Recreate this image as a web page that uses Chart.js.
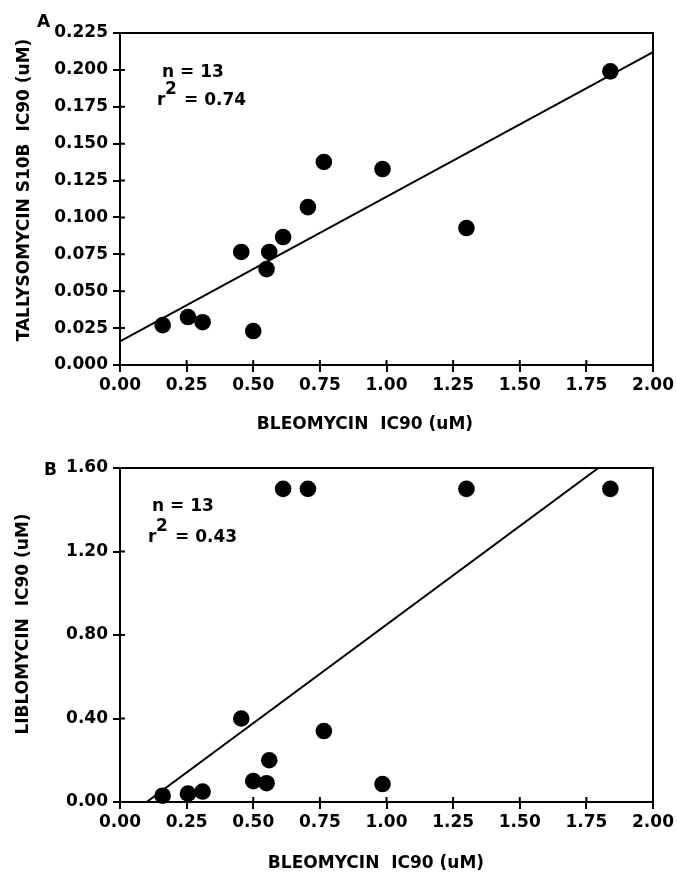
<!DOCTYPE html>
<html>
<head>
<meta charset="utf-8">
<script src="https://cdn.jsdelivr.net/npm/chart.js@4.4.0/dist/chart.umd.min.js"></script>
<style>
  html, body { margin: 0; padding: 0; background: #fff; }
  #wrap { position: relative; width: 677px; height: 873px; }
  canvas { position: absolute; left: 0; }
</style>
</head>
<body>
<div id="wrap">
  <canvas id="chartA" width="677" height="440" style="top:0px"></canvas>
  <canvas id="chartB" width="677" height="433" style="top:440px"></canvas>
</div>
<script>
// bleomycin IC90 (uM), shared by both panels
const bleomycin = [0.16, 0.255, 0.31, 0.455, 0.50, 0.55, 0.56, 0.612, 0.705, 0.765, 0.985, 1.30, 1.84];
// panel A: tallysomycin S10B IC90 (uM)
const tallysomycin = [0.027, 0.0325, 0.029, 0.0766, 0.023, 0.065, 0.0766, 0.0867, 0.107, 0.1376, 0.1328, 0.0928, 0.199];
// panel B: liblomycin IC90 (uM)
const liblomycin = [0.03, 0.04, 0.05, 0.40, 0.10, 0.09, 0.20, 1.50, 1.50, 0.34, 0.086, 1.50, 1.50];

// regression lines (end points)
const fitXA = [0, 2.0];
const fitYA = [0.016, 0.212];
const fitXB = [0.10, 1.795];
const fitYB = [0, 1.60];

const xTicks = [0, 0.25, 0.5, 0.75, 1.0, 1.25, 1.5, 1.75, 2.0];
const yTicksA = [0, 0.025, 0.05, 0.075, 0.1, 0.125, 0.15, 0.175, 0.2, 0.225];
const yTicksB = [0, 0.4, 0.8, 1.2, 1.6];

const FONT = '"DejaVu Sans", sans-serif';
Chart.defaults.font.family = FONT;
Chart.defaults.font.size = 17;
Chart.defaults.font.weight = 'bold';
Chart.defaults.color = '#000';

const toPts = (xs, ys) => xs.map((x, i) => ({ x: x, y: ys[i] }));

// frame, inward tick stubs and the free text of each panel
function panelPlugin(cfg) {
  return {
    id: 'panel',
    afterDraw(chart) {
      const ctx = chart.ctx;
      const a = chart.chartArea;
      const xs = chart.scales.x, ys = chart.scales.y;
      ctx.save();
      ctx.strokeStyle = '#000';
      ctx.lineWidth = 2;
      ctx.strokeRect(a.left, a.top, a.right - a.left, a.bottom - a.top);
      ctx.beginPath();
      xs.ticks.forEach(t => {
        const px = xs.getPixelForValue(t.value);
        if (px > a.left + 2 && px < a.right - 2) {
          ctx.moveTo(px, a.bottom);
          ctx.lineTo(px, a.bottom - 5);
        }
      });
      ys.ticks.forEach(t => {
        const py = ys.getPixelForValue(t.value);
        if (py > a.top + 2 && py < a.bottom - 2) {
          ctx.moveTo(a.left, py);
          ctx.lineTo(a.left + 5, py);
        }
      });
      ctx.stroke();

      ctx.fillStyle = '#000';
      ctx.textBaseline = 'alphabetic';
      ctx.textAlign = 'left';
      ctx.font = 'bold 17px ' + FONT;
      ctx.fillText(cfg.panel, cfg.panelX, cfg.panelY);
      ctx.fillText('n = 13', cfg.nX, cfg.nY);
      ctx.fillText('r', cfg.rX, cfg.rY);
      ctx.fillText('2', cfg.rX + 8, cfg.rY - 11);
      ctx.fillText('= ' + cfg.r2, cfg.rX + 27, cfg.rY);

      ctx.textAlign = 'center';
      ctx.textBaseline = 'middle';
      ctx.fillText(cfg.xTitle, cfg.xTitleX, cfg.xTitleY);
      ctx.translate(cfg.yTitleX, cfg.yTitleY);
      ctx.rotate(-Math.PI / 2);
      ctx.fillText(cfg.yTitle, 0, 0);
      ctx.restore();
    }
  };
}

function makePanel(id, pts, fit, yTicks, yMax, yDigits, padTop, xHeight, cfg) {
  new Chart(document.getElementById(id), {
    type: 'scatter',
    data: {
      datasets: [
        {
          data: pts,
          pointRadius: 8.3,
          pointBackgroundColor: '#000',
          pointBorderWidth: 0,
          clip: false,
          order: 0
        },
        {
          data: fit,
          showLine: true,
          pointRadius: 0,
          borderColor: '#000',
          borderWidth: 2,
          order: 1
        }
      ]
    },
    options: {
      responsive: false,
      animation: false,
      layout: { padding: { top: padTop, right: 24, left: 0, bottom: 0 } },
      plugins: { legend: { display: false }, tooltip: { enabled: false } },
      scales: {
        x: {
          type: 'linear',
          min: 0,
          max: 2,
          afterBuildTicks: s => { s.ticks = xTicks.map(v => ({ value: v })); },
          afterFit: s => { s.height = xHeight; },
          ticks: { padding: 3, callback: v => v.toFixed(2), maxRotation: 0, autoSkip: false },
          grid: { drawOnChartArea: false, tickLength: 7, color: '#000', lineWidth: 2 },
          border: { display: true, color: '#000', width: 2 }
        },
        y: {
          type: 'linear',
          min: 0,
          max: yMax,
          afterBuildTicks: s => { s.ticks = yTicks.map(v => ({ value: v })); },
          afterFit: s => { s.width = 120; },
          ticks: { padding: 5, callback: v => v.toFixed(yDigits), autoSkip: false },
          grid: { drawOnChartArea: false, tickLength: 7, color: '#000', lineWidth: 2 },
          border: { display: true, color: '#000', width: 2 }
        }
      }
    },
    plugins: [panelPlugin(cfg)]
  });
}

makePanel('chartA', toPts(bleomycin, tallysomycin), toPts(fitXA, fitYA), yTicksA, 0.225, 3, 33, 75, {
  panel: 'A', panelX: 37, panelY: 27,
  nX: 162, nY: 77, rX: 157, rY: 105, r2: '0.74',
  xTitle: 'BLEOMYCIN  IC90 (uM)', xTitleX: 365, xTitleY: 425,
  yTitle: 'TALLYSOMYCIN S10B  IC90 (uM)', yTitleX: 25, yTitleY: 190
});

makePanel('chartB', toPts(bleomycin, liblomycin), toPts(fitXB, fitYB), yTicksB, 1.6, 2, 28, 71, {
  panel: 'B', panelX: 44, panelY: 35,
  nX: 152, nY: 71, rX: 148, rY: 102, r2: '0.43',
  xTitle: 'BLEOMYCIN  IC90 (uM)', xTitleX: 376, xTitleY: 424,
  yTitle: 'LIBLOMYCIN  IC90 (uM)', yTitleX: 24, yTitleY: 184
});
</script>
</body>
</html>
